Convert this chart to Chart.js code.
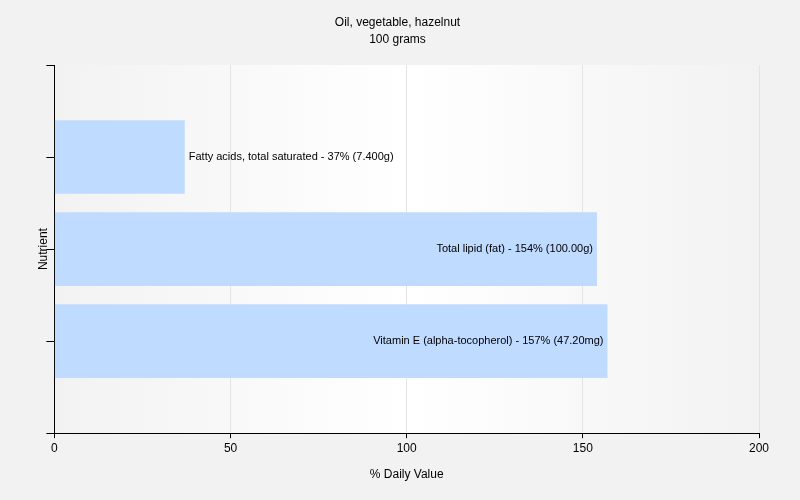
<!DOCTYPE html>
<html>
<head>
<meta charset="utf-8">
<script src="https://cdn.jsdelivr.net/npm/chart.js@4"></script>
<style>
  html, body { margin: 0; padding: 0; background: #f2f2f2; }
  #wrap { width: 800px; height: 500px; }
</style>
</head>
<body>
<div id="wrap"><canvas id="chart"></canvas></div>
<script>
// nutrients, top to bottom
const nutrients = ['Fatty acids, total saturated', 'Total lipid (fat)', 'Vitamin E (alpha-tocopherol)'];
const dailyValue = [37, 154, 157];
const amounts = ['7.400g', '100.00g', '47.20mg'];
const xTicks = [0, 50, 100, 150, 200];

const FONT = 'Liberation Sans, Arial, sans-serif';

// empty slot above and below the bars
const labels = [''].concat(nutrients, ['']);
const values = [null].concat(dailyValue, [null]);

const plotBackground = {
  id: 'plotBackground',
  beforeDraw(chart) {
    const { ctx, chartArea: a } = chart;
    const g = ctx.createLinearGradient(a.left, 0, a.right, 0);
    g.addColorStop(0, '#f2f2f2');
    g.addColorStop(0.5, '#ffffff');
    g.addColorStop(1, '#f2f2f2');
    ctx.save();
    ctx.fillStyle = g;
    ctx.fillRect(a.left, a.top, a.right - a.left, a.bottom - a.top);
    ctx.restore();
  }
};

const barLabels = {
  id: 'barLabels',
  afterDatasetsDraw(chart) {
    const ctx = chart.ctx;
    const meta = chart.getDatasetMeta(0);
    ctx.save();
    ctx.font = '11px ' + FONT;
    ctx.fillStyle = '#000';
    ctx.textBaseline = 'middle';
    meta.data.forEach((bar, i) => {
      if (values[i] == null) return;
      const text = labels[i] + ' - ' + values[i] + '% (' + amounts[i - 1] + ')';
      const w = ctx.measureText(text).width;
      if (w + 8 < bar.x - bar.base) {
        ctx.textAlign = 'right';
        ctx.fillText(text, bar.x - 4, bar.y);
      } else {
        ctx.textAlign = 'left';
        ctx.fillText(text, bar.x + 4, bar.y);
      }
    });
    ctx.restore();
  }
};

new Chart(document.getElementById('chart'), {
  type: 'bar',
  data: {
    labels: labels,
    datasets: [{
      data: values,
      backgroundColor: '#bfdbff',
      barPercentage: 0.8,
      categoryPercentage: 1
    }]
  },
  options: {
    indexAxis: 'y',
    responsive: true,
    maintainAspectRatio: false,
    animation: false,
    layout: { padding: { left: 36, right: 41, top: 0, bottom: 14 } },
    plugins: {
      legend: { display: false },
      tooltip: { enabled: false },
      title: {
        display: true,
        text: 'Oil, vegetable, hazelnut',
        color: '#000',
        font: { family: FONT, size: 12, weight: 'normal' },
        padding: { top: 15, bottom: 0 }
      },
      subtitle: {
        display: true,
        text: '100 grams',
        color: '#000',
        font: { family: FONT, size: 12 },
        padding: { top: 3.5, bottom: 17.7 }
      }
    },
    scales: {
      x: {
        type: 'linear',
        min: 0,
        max: 200,
        afterBuildTicks(scale) { scale.ticks = xTicks.map(v => ({ value: v })); },
        grid: { color: '#e4e4e4', tickColor: '#000', tickLength: 5 },
        border: { color: '#000' },
        ticks: { color: '#000', padding: 3, font: { family: FONT, size: 12 } },
        title: {
          display: true,
          text: '% Daily Value',
          color: '#000',
          font: { family: FONT, size: 12 },
          padding: { top: 9, bottom: 4 }
        }
      },
      y: {
        offset: false,
        grid: { offset: false, drawOnChartArea: false, tickColor: '#000', tickLength: 8 },
        border: { color: '#000' },
        ticks: { display: false },
        title: {
          display: true,
          text: 'Nutrient',
          color: '#000',
          font: { family: FONT, size: 12 },
          padding: { top: 0, bottom: -4 }
        }
      }
    }
  },
  plugins: [plotBackground, barLabels]
});
</script>
</body>
</html>
